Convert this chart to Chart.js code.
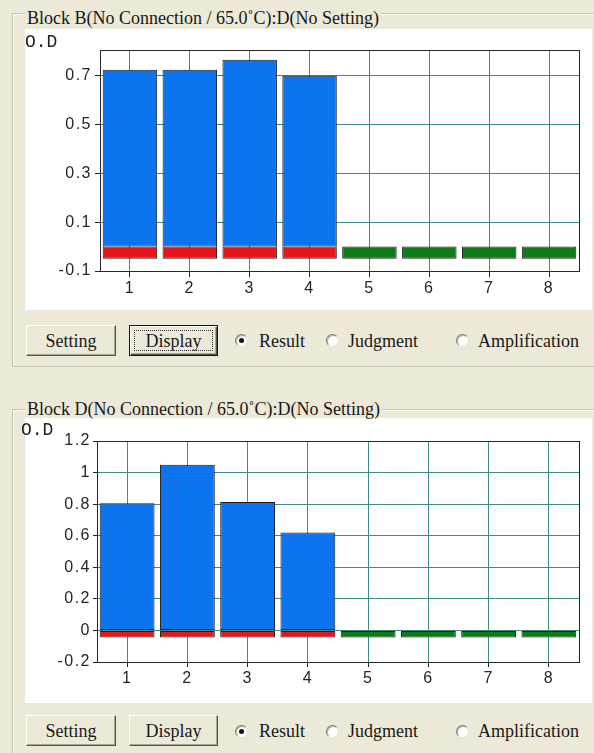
<!DOCTYPE html>
<html>
<head>
<meta charset="utf-8">
<title>Block B / Block D</title>
<script src="https://cdn.jsdelivr.net/npm/chart.js@4.4.1/dist/chart.umd.min.js"></script>
<style>
  html, body { margin: 0; padding: 0; }
  body {
    width: 594px; height: 753px; position: relative; overflow: hidden;
    background: #ECE9D8; color: #181818;
    font-family: "Liberation Serif", "Times New Roman", serif; font-size: 18px;
  }
  .frame {
    position: absolute; left: 12px; width: 600px;
    border: 1px solid #C6C3B3; border-right: none;
    box-shadow: inset 1px 1px 0 #FAF9F3;
  }
  .caption {
    position: absolute; left: 25px; padding: 0 2px; height: 19px; line-height: 20px;
    background: #ECE9D8; white-space: nowrap;
  }
  .panel { position: absolute; left: 25px; width: 567px; background: #fff; }
  .unit {
    position: absolute; font-family: "Liberation Mono", "DejaVu Sans Mono", monospace;
    font-size: 18px; line-height: 20px; color: #222;
  }
  canvas { position: absolute; left: 25px; }
  .btn {
    position: absolute; height: 31px; box-sizing: border-box; background: #ECE9D8;
    border: 1px solid; border-color: #FFFFFF #55534C #55534C #FFFFFF;
    box-shadow: inset -1px -1px 0 #A8A597;
    display: flex; align-items: center; justify-content: center; line-height: 20px;
  }
  .btn.default {
    border-color: #151515;
    box-shadow: inset 1px 1px 0 #fff, inset -1px -1px 0 #55534C, inset -2px -2px 0 #A8A597;
  }
  .btn.default::after {
    content: ""; position: absolute; left: 4px; top: 4px; right: 4px; bottom: 4px;
    border: 1px dotted #333;
  }
  .radio {
    position: absolute; width: 13px; height: 13px; box-sizing: border-box; border-radius: 50%;
    background: #fff; border: 1px solid; border-color: #7E7D74 #E4E2D8 #E4E2D8 #7E7D74;
    box-shadow: inset 1px 1px 0 #B4B2A6;
  }
  .radio.on::after {
    content: ""; position: absolute; left: 3px; top: 3px; width: 5px; height: 5px;
    border-radius: 50%; background: #0c0c0c;
  }
  .rlabel { position: absolute; height: 20px; line-height: 20px; white-space: nowrap; }
</style>
</head>
<body>

<!-- Block B -->
<div class="frame" style="top:13px; height:352px;"></div>
<div class="panel" style="top:29px; height:281px;"></div>
<div class="caption" style="top:8px; height:20px;">Block B(No Connection / 65.0˚C):D(No Setting)</div>
<canvas id="chartB" width="567" height="281" style="top:29px;"></canvas>
<div class="unit" style="left:25px; top:32px;">O.D</div>
<div class="btn" style="left:26px; top:325px; width:90px;">Setting</div>
<div class="btn default" style="left:129px; top:325px; width:89px;">Display</div>
<div class="radio on" style="left:235px; top:334px;"></div>
<div class="rlabel" style="left:259px; top:331px;">Result</div>
<div class="radio" style="left:326px; top:334px;"></div>
<div class="rlabel" style="left:348px; top:331px;">Judgment</div>
<div class="radio" style="left:456px; top:334px;"></div>
<div class="rlabel" style="left:478px; top:331px;">Amplification</div>

<!-- Block D -->
<div class="frame" style="top:409px; height:400px;"></div>
<div class="panel" style="top:418px; height:285px;"></div>
<div class="caption" style="top:399px;">Block D(No Connection / 65.0˚C):D(No Setting)</div>
<canvas id="chartD" width="567" height="287" style="top:416px;"></canvas>
<div class="unit" style="left:21px; top:420px;">O.D</div>
<div class="btn" style="left:26px; top:715px; width:90px;">Setting</div>
<div class="btn" style="left:129px; top:715px; width:89px;">Display</div>
<div class="radio on" style="left:235px; top:725px;"></div>
<div class="rlabel" style="left:259px; top:721px;">Result</div>
<div class="radio" style="left:326px; top:725px;"></div>
<div class="rlabel" style="left:348px; top:721px;">Judgment</div>
<div class="radio" style="left:456px; top:725px;"></div>
<div class="rlabel" style="left:478px; top:721px;">Amplification</div>

<script>
// Wells along the x axis
const wells = ['1', '2', '3', '4', '5', '6', '7', '8'];

// Block B: optical density per well (null = no reading)
const blockB_OD   = [0.725, 0.725, 0.766, 0.700, null, null, null, null];
const blockB_base = [-0.05, -0.05, -0.05, -0.05, -0.05, -0.05, -0.05, -0.05];
const blockB_ticks = [-0.1, 0.1, 0.3, 0.5, 0.7];
const blockB_range = [-0.1, 0.806];

// Block D: optical density per well (null = no reading)
const blockD_OD   = [0.806, 1.05, 0.813, 0.621, null, null, null, null];
const blockD_base = [-0.045, -0.045, -0.045, -0.045, -0.045, -0.045, -0.045, -0.045];
const blockD_ticks = [-0.2, 0, 0.2, 0.4, 0.6, 0.8, 1, 1.2];
const blockD_range = [-0.2, 1.2];

const BLUE = '#0B74EE';
const RED = '#E6141B';
const GREEN = '#0E7C16';
const EDGE = '#1d1d1d';
const GRID = '#3E8B85';
const TICK = '#222222';
const LABEL = '#262626';

// Box around the plot area
const plotFrame = {
  id: 'plotFrame',
  afterDatasetsDraw(chart) {
    const { ctx, chartArea: a } = chart;
    ctx.save();
    ctx.strokeStyle = '#262626';
    ctx.lineWidth = 1;
    ctx.strokeRect(a.left + 0.5, a.top + 0.5, a.right - a.left, a.bottom - a.top);
    ctx.restore();
  }
};

// Slightly spaced axis digits
const wideDigits = {
  id: 'wideDigits',
  beforeUpdate(chart) { chart.ctx.letterSpacing = '1.5px'; },
  beforeLayout(chart) { chart.ctx.letterSpacing = '1.5px'; },
  beforeDraw(chart) { chart.ctx.letterSpacing = '1.5px'; }
};

function makeChart(id, od, base, ticks, range, g) {
  const barStyle = {
    borderColor: EDGE, borderWidth: 1, borderSkipped: false,
    barPercentage: 0.91, categoryPercentage: 1
  };
  const tickFont = { family: '"Liberation Sans", Arial, sans-serif', size: 16 };
  return new Chart(document.getElementById(id), {
    type: 'bar',
    data: {
      labels: wells,
      datasets: [
        Object.assign({ data: od, backgroundColor: BLUE }, barStyle),
        Object.assign({ data: base, backgroundColor: od.map(v => v === null ? GREEN : RED) }, barStyle)
      ]
    },
    options: {
      responsive: false,
      animation: false,
      devicePixelRatio: 1,
      layout: { padding: { left: 0, top: g.top, right: g.right, bottom: 0 } },
      plugins: { legend: { display: false }, tooltip: { enabled: false }, title: { display: false } },
      scales: {
        x: {
          stacked: true,
          offset: true,
          border: { display: false },
          grid: { offset: false, color: GRID, tickColor: TICK, tickLength: g.xTick, lineWidth: 1 },
          ticks: { color: LABEL, font: tickFont, padding: g.xPad, maxRotation: 0, autoSkip: false },
          afterFit: s => { s.height = g.xHeight; }
        },
        y: {
          stacked: true,
          min: range[0],
          max: range[1],
          border: { display: false },
          grid: { color: GRID, tickColor: TICK, tickLength: g.yTick, lineWidth: 1 },
          ticks: { color: LABEL, font: tickFont, padding: g.yPad, callback: v => String(v) },
          afterBuildTicks: s => { s.ticks = ticks.map(v => ({ value: v })); },
          afterFit: s => { s.width = g.yWidth; }
        }
      }
    },
    plugins: [plotFrame, wideDigits]
  });
}

makeChart('chartB', blockB_OD, blockB_base, blockB_ticks, blockB_range,
  { top: 21, right: 13, yWidth: 75, xHeight: 39, xTick: 6, xPad: 2, yTick: 5, yPad: 3 });
makeChart('chartD', blockD_OD, blockD_base, blockD_ticks, blockD_range,
  { top: 25, right: 13, yWidth: 72, xHeight: 41, xTick: 5, xPad: 2, yTick: 4, yPad: 2 });
</script>
</body>
</html>
